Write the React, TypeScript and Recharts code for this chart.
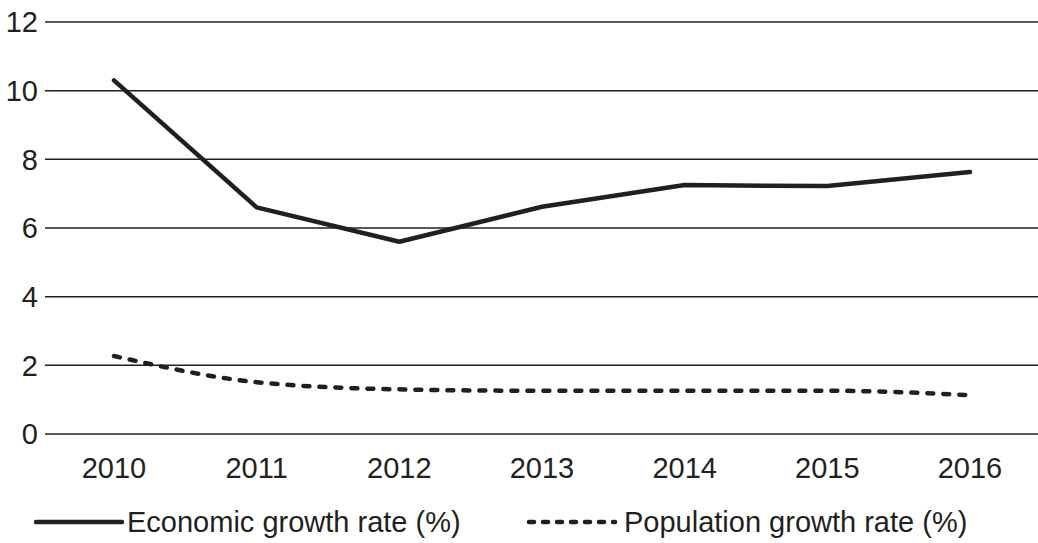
import * as React from "react";
import { CartesianGrid, Line, LineChart, XAxis, YAxis } from "recharts";

// ── data ──
const years = ["2010", "2011", "2012", "2013", "2014", "2015", "2016"];
const economicGrowth = [10.3, 6.6, 5.6, 6.62, 7.25, 7.22, 7.63];
const populationGrowth = [2.27, 1.51, 1.3, 1.26, 1.26, 1.26, 1.13];
const yTicks = [0, 2, 4, 6, 8, 10, 12];

const rows = years.map((year, i) => ({
  year,
  economic: economicGrowth[i],
  population: populationGrowth[i],
}));

const INK = "#231f20";
const FONT = "'Liberation Sans', Arial, Helvetica, sans-serif";
const tick = { fill: INK, fontSize: 29, fontFamily: FONT };

export default function App() {
  return (
    <div
      style={{
        position: "absolute",
        left: 0,
        top: 0,
        width: 1038,
        height: 543,
        background: "#fff",
        fontFamily: FONT,
        overflow: "hidden",
      }}
    >
      <LineChart
        width={1038}
        height={484}
        data={rows}
        margin={{ top: 22, right: 0, bottom: 0, left: 0 }}
      >
        <CartesianGrid vertical={false} stroke={INK} strokeWidth={1.5} />
        <XAxis
          dataKey="year"
          axisLine={false}
          tickLine={false}
          tickSize={0}
          tickMargin={23}
          height={50}
          tick={tick}
          padding={{ left: 69, right: 68 }}
          interval={0}
        />
        <YAxis
          domain={[0, 12]}
          ticks={yTicks}
          axisLine={false}
          tickLine={false}
          tickSize={0}
          tickMargin={7}
          width={45}
          tick={tick}
          interval={0}
        />
        <Line
          type="linear"
          dataKey="economic"
          stroke={INK}
          strokeWidth={4.5}
          strokeLinecap="round"
          strokeLinejoin="round"
          dot={false}
          isAnimationActive={false}
        />
        <Line
          type="monotone"
          dataKey="population"
          stroke={INK}
          strokeWidth={4.5}
          strokeLinecap="round"
          strokeDasharray="6 10"
          dot={false}
          isAnimationActive={false}
        />
      </LineChart>

      {/* legend */}
      <div
        style={{
          position: "absolute",
          top: 505,
          left: 0,
          width: 1038,
          height: 34,
          color: INK,
          fontSize: 29,
          lineHeight: "34px",
          whiteSpace: "nowrap",
        }}
      >
        <div style={{ position: "absolute", left: 34, top: 0, display: "flex", alignItems: "center" }}>
          <svg width={90} height={34}>
            <line x1={2} y1={17} x2={88} y2={17} stroke={INK} strokeWidth={4.5} strokeLinecap="round" />
          </svg>
          <span style={{ marginLeft: 3 }}>Economic growth rate (%)</span>
        </div>
        <div style={{ position: "absolute", left: 526, top: 0, display: "flex", alignItems: "center" }}>
          <svg width={92} height={34}>
            <line
              x1={3}
              y1={17}
              x2={89}
              y2={17}
              stroke={INK}
              strokeWidth={4.5}
              strokeLinecap="round"
              strokeDasharray="5 9"
            />
          </svg>
          <span style={{ marginLeft: 6 }}>Population growth rate (%)</span>
        </div>
      </div>
    </div>
  );
}
